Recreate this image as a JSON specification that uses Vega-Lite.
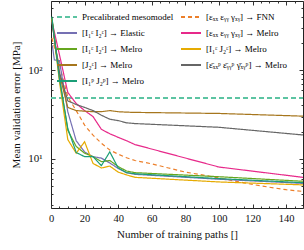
{
  "$schema": "https://vega.github.io/schema/vega-lite/v6.json",
  "autosize": {"type": "none"},
  "padding": {"left": 51, "top": 1, "right": 1, "bottom": 42},
  "width": 252,
  "height": 207,
  "config": {
    "font": "Liberation Serif",
    "view": {"stroke": "#222", "strokeWidth": 1},
    "axis": {"grid": false, "domain": false, "tickColor": "#333", "labelFont": "Liberation Serif", "titleFont": "Liberation Serif", "labelColor": "#111", "titleColor": "#111", "titleFontWeight": "normal"},
    "legend": {"orient": "none", "legendX": 5, "legendY": 5, "columns": 2, "title": null,
      "symbolType": "stroke", "symbolSize": 400, "symbolStrokeWidth": 2, "labelFontSize": 9,
      "labelFont": "Liberation Serif", "labelLimit": 200, "rowPadding": 0, "columnPadding": 3, "labelOffset": 4}
  },
  "data": {"values": [
    {"s": "Precalibrated mesomodel", "x": 0, "v": 48.4},
    {"s": "Precalibrated mesomodel", "x": 150, "v": 48.4},

    {"s": "[εₓₓ εᵧᵧ γₓᵧ] → FNN", "x": 0.5, "v": 230},
    {"s": "[εₓₓ εᵧᵧ γₓᵧ] → FNN", "x": 5, "v": 115},
    {"s": "[εₓₓ εᵧᵧ γₓᵧ] → FNN", "x": 10, "v": 50},
    {"s": "[εₓₓ εᵧᵧ γₓᵧ] → FNN", "x": 15, "v": 35},
    {"s": "[εₓₓ εᵧᵧ γₓᵧ] → FNN", "x": 20, "v": 24},
    {"s": "[εₓₓ εᵧᵧ γₓᵧ] → FNN", "x": 25, "v": 18.5},
    {"s": "[εₓₓ εᵧᵧ γₓᵧ] → FNN", "x": 30, "v": 15},
    {"s": "[εₓₓ εᵧᵧ γₓᵧ] → FNN", "x": 35, "v": 12.6},
    {"s": "[εₓₓ εᵧᵧ γₓᵧ] → FNN", "x": 40, "v": 11.3},
    {"s": "[εₓₓ εᵧᵧ γₓᵧ] → FNN", "x": 45, "v": 10.3},
    {"s": "[εₓₓ εᵧᵧ γₓᵧ] → FNN", "x": 50, "v": 9.6},
    {"s": "[εₓₓ εᵧᵧ γₓᵧ] → FNN", "x": 60, "v": 8.8},
    {"s": "[εₓₓ εᵧᵧ γₓᵧ] → FNN", "x": 70, "v": 7.9},
    {"s": "[εₓₓ εᵧᵧ γₓᵧ] → FNN", "x": 80, "v": 7.1},
    {"s": "[εₓₓ εᵧᵧ γₓᵧ] → FNN", "x": 90, "v": 6.6},
    {"s": "[εₓₓ εᵧᵧ γₓᵧ] → FNN", "x": 100, "v": 6.1},
    {"s": "[εₓₓ εᵧᵧ γₓᵧ] → FNN", "x": 110, "v": 5.6},
    {"s": "[εₓₓ εᵧᵧ γₓᵧ] → FNN", "x": 120, "v": 5.15},
    {"s": "[εₓₓ εᵧᵧ γₓᵧ] → FNN", "x": 130, "v": 4.8},
    {"s": "[εₓₓ εᵧᵧ γₓᵧ] → FNN", "x": 140, "v": 4.5},
    {"s": "[εₓₓ εᵧᵧ γₓᵧ] → FNN", "x": 150, "v": 4.3},

    {"s": "[I₁ᵋ I₂ᵋ] → Elastic", "x": 0.8, "v": 190},
    {"s": "[I₁ᵋ I₂ᵋ] → Elastic", "x": 2, "v": 130},
    {"s": "[I₁ᵋ I₂ᵋ] → Elastic", "x": 5, "v": 128},
    {"s": "[I₁ᵋ I₂ᵋ] → Elastic", "x": 10, "v": 34},
    {"s": "[I₁ᵋ I₂ᵋ] → Elastic", "x": 15, "v": 16},
    {"s": "[I₁ᵋ I₂ᵋ] → Elastic", "x": 20, "v": 12},
    {"s": "[I₁ᵋ I₂ᵋ] → Elastic", "x": 25, "v": 10.6},
    {"s": "[I₁ᵋ I₂ᵋ] → Elastic", "x": 30, "v": 10.2},
    {"s": "[I₁ᵋ I₂ᵋ] → Elastic", "x": 35, "v": 9.0},
    {"s": "[I₁ᵋ I₂ᵋ] → Elastic", "x": 40, "v": 7.8},
    {"s": "[I₁ᵋ I₂ᵋ] → Elastic", "x": 45, "v": 7.0},
    {"s": "[I₁ᵋ I₂ᵋ] → Elastic", "x": 50, "v": 6.7},
    {"s": "[I₁ᵋ I₂ᵋ] → Elastic", "x": 100, "v": 5.9},
    {"s": "[I₁ᵋ I₂ᵋ] → Elastic", "x": 150, "v": 5.3},

    {"s": "[εₓₓ εᵧᵧ γₓᵧ] → Melro", "x": 0.5, "v": 360},
    {"s": "[εₓₓ εᵧᵧ γₓᵧ] → Melro", "x": 5, "v": 150},
    {"s": "[εₓₓ εᵧᵧ γₓᵧ] → Melro", "x": 10, "v": 56},
    {"s": "[εₓₓ εᵧᵧ γₓᵧ] → Melro", "x": 15, "v": 42},
    {"s": "[εₓₓ εᵧᵧ γₓᵧ] → Melro", "x": 20, "v": 35},
    {"s": "[εₓₓ εᵧᵧ γₓᵧ] → Melro", "x": 25, "v": 30},
    {"s": "[εₓₓ εᵧᵧ γₓᵧ] → Melro", "x": 30, "v": 21.5},
    {"s": "[εₓₓ εᵧᵧ γₓᵧ] → Melro", "x": 35, "v": 19.2},
    {"s": "[εₓₓ εᵧᵧ γₓᵧ] → Melro", "x": 40, "v": 17.5},
    {"s": "[εₓₓ εᵧᵧ γₓᵧ] → Melro", "x": 45, "v": 16},
    {"s": "[εₓₓ εᵧᵧ γₓᵧ] → Melro", "x": 50, "v": 14.5},
    {"s": "[εₓₓ εᵧᵧ γₓᵧ] → Melro", "x": 100, "v": 8.1},
    {"s": "[εₓₓ εᵧᵧ γₓᵧ] → Melro", "x": 150, "v": 6.2},

    {"s": "[I₁ᵋ I₂ᵋ] → Melro", "x": 0.5, "v": 390},
    {"s": "[I₁ᵋ I₂ᵋ] → Melro", "x": 5, "v": 85},
    {"s": "[I₁ᵋ I₂ᵋ] → Melro", "x": 10, "v": 21},
    {"s": "[I₁ᵋ I₂ᵋ] → Melro", "x": 15, "v": 13.8},
    {"s": "[I₁ᵋ I₂ᵋ] → Melro", "x": 20, "v": 11.6},
    {"s": "[I₁ᵋ I₂ᵋ] → Melro", "x": 25, "v": 10.6},
    {"s": "[I₁ᵋ I₂ᵋ] → Melro", "x": 30, "v": 9.3},
    {"s": "[I₁ᵋ I₂ᵋ] → Melro", "x": 35, "v": 9.6},
    {"s": "[I₁ᵋ I₂ᵋ] → Melro", "x": 40, "v": 8.2},
    {"s": "[I₁ᵋ I₂ᵋ] → Melro", "x": 45, "v": 7.3},
    {"s": "[I₁ᵋ I₂ᵋ] → Melro", "x": 50, "v": 7.0},
    {"s": "[I₁ᵋ I₂ᵋ] → Melro", "x": 100, "v": 6.3},
    {"s": "[I₁ᵋ I₂ᵋ] → Melro", "x": 150, "v": 5.6},

    {"s": "[I₁ᵋ J₂ᵋ] → Melro", "x": 0.5, "v": 380},
    {"s": "[I₁ᵋ J₂ᵋ] → Melro", "x": 5, "v": 75},
    {"s": "[I₁ᵋ J₂ᵋ] → Melro", "x": 10, "v": 16.5},
    {"s": "[I₁ᵋ J₂ᵋ] → Melro", "x": 15, "v": 11.6},
    {"s": "[I₁ᵋ J₂ᵋ] → Melro", "x": 20, "v": 15.6},
    {"s": "[I₁ᵋ J₂ᵋ] → Melro", "x": 25, "v": 8.9},
    {"s": "[I₁ᵋ J₂ᵋ] → Melro", "x": 30, "v": 7.9},
    {"s": "[I₁ᵋ J₂ᵋ] → Melro", "x": 35, "v": 8.3},
    {"s": "[I₁ᵋ J₂ᵋ] → Melro", "x": 40, "v": 7.1},
    {"s": "[I₁ᵋ J₂ᵋ] → Melro", "x": 45, "v": 6.6},
    {"s": "[I₁ᵋ J₂ᵋ] → Melro", "x": 50, "v": 6.2},
    {"s": "[I₁ᵋ J₂ᵋ] → Melro", "x": 100, "v": 5.5},
    {"s": "[I₁ᵋ J₂ᵋ] → Melro", "x": 150, "v": 5.1},

    {"s": "[J₂ᵋ] → Melro", "x": 0.5, "v": 370},
    {"s": "[J₂ᵋ] → Melro", "x": 5, "v": 90},
    {"s": "[J₂ᵋ] → Melro", "x": 10, "v": 38},
    {"s": "[J₂ᵋ] → Melro", "x": 15, "v": 35},
    {"s": "[J₂ᵋ] → Melro", "x": 20, "v": 34.5},
    {"s": "[J₂ᵋ] → Melro", "x": 25, "v": 34},
    {"s": "[J₂ᵋ] → Melro", "x": 30, "v": 34},
    {"s": "[J₂ᵋ] → Melro", "x": 35, "v": 35},
    {"s": "[J₂ᵋ] → Melro", "x": 40, "v": 34},
    {"s": "[J₂ᵋ] → Melro", "x": 45, "v": 33.6},
    {"s": "[J₂ᵋ] → Melro", "x": 50, "v": 33.4},
    {"s": "[J₂ᵋ] → Melro", "x": 100, "v": 32.5},
    {"s": "[J₂ᵋ] → Melro", "x": 150, "v": 30.3},

    {"s": "[ε̄ₓₓᵖ ε̄ᵧᵧᵖ γ̄ₓᵧᵖ] → Melro", "x": 0.5, "v": 350},
    {"s": "[ε̄ₓₓᵖ ε̄ᵧᵧᵖ γ̄ₓᵧᵖ] → Melro", "x": 5, "v": 95},
    {"s": "[ε̄ₓₓᵖ ε̄ᵧᵧᵖ γ̄ₓᵧᵖ] → Melro", "x": 10, "v": 45},
    {"s": "[ε̄ₓₓᵖ ε̄ᵧᵧᵖ γ̄ₓᵧᵖ] → Melro", "x": 15, "v": 41},
    {"s": "[ε̄ₓₓᵖ ε̄ᵧᵧᵖ γ̄ₓᵧᵖ] → Melro", "x": 20, "v": 38},
    {"s": "[ε̄ₓₓᵖ ε̄ᵧᵧᵖ γ̄ₓᵧᵖ] → Melro", "x": 25, "v": 35},
    {"s": "[ε̄ₓₓᵖ ε̄ᵧᵧᵖ γ̄ₓᵧᵖ] → Melro", "x": 30, "v": 31},
    {"s": "[ε̄ₓₓᵖ ε̄ᵧᵧᵖ γ̄ₓᵧᵖ] → Melro", "x": 35, "v": 28},
    {"s": "[ε̄ₓₓᵖ ε̄ᵧᵧᵖ γ̄ₓᵧᵖ] → Melro", "x": 40, "v": 27},
    {"s": "[ε̄ₓₓᵖ ε̄ᵧᵧᵖ γ̄ₓᵧᵖ] → Melro", "x": 45, "v": 25.5},
    {"s": "[ε̄ₓₓᵖ ε̄ᵧᵧᵖ γ̄ₓᵧᵖ] → Melro", "x": 50, "v": 25},
    {"s": "[ε̄ₓₓᵖ ε̄ᵧᵧᵖ γ̄ₓᵧᵖ] → Melro", "x": 100, "v": 22.7},
    {"s": "[ε̄ₓₓᵖ ε̄ᵧᵧᵖ γ̄ₓᵧᵖ] → Melro", "x": 150, "v": 18.6},

    {"s": "[I₁ᵖ J₂ᵖ] → Melro", "x": 0.5, "v": 400},
    {"s": "[I₁ᵖ J₂ᵖ] → Melro", "x": 5, "v": 80},
    {"s": "[I₁ᵖ J₂ᵖ] → Melro", "x": 10, "v": 22},
    {"s": "[I₁ᵖ J₂ᵖ] → Melro", "x": 15, "v": 11.8},
    {"s": "[I₁ᵖ J₂ᵖ] → Melro", "x": 20, "v": 10.6},
    {"s": "[I₁ᵖ J₂ᵖ] → Melro", "x": 25, "v": 10.6},
    {"s": "[I₁ᵖ J₂ᵖ] → Melro", "x": 30, "v": 8.4},
    {"s": "[I₁ᵖ J₂ᵖ] → Melro", "x": 35, "v": 12},
    {"s": "[I₁ᵖ J₂ᵖ] → Melro", "x": 40, "v": 7.9},
    {"s": "[I₁ᵖ J₂ᵖ] → Melro", "x": 45, "v": 7.0},
    {"s": "[I₁ᵖ J₂ᵖ] → Melro", "x": 50, "v": 6.8},
    {"s": "[I₁ᵖ J₂ᵖ] → Melro", "x": 100, "v": 6.0},
    {"s": "[I₁ᵖ J₂ᵖ] → Melro", "x": 150, "v": 5.4}
  ]},
  "layer": [
    {
      "mark": {"type": "line", "clip": true},
      "encoding": {
        "x": {"field": "x", "type": "quantitative",
          "scale": {"domain": [0, 150], "nice": false, "zero": false},
          "axis": {"orient": "bottom", "values": [0,5,10,15,20,25,30,35,40,45,50,55,60,65,70,75,80,85,90,95,100,105,110,115,120,125,130,135,140,145,150],
            "labelExpr": "(datum.value % 20 == 0 && datum.value <= 140) ? datum.label : ''",
            "labelOverlap": false, "labelFlush": false, "labelFontSize": 10.5, "labelPadding": 9,
            "tickSize": {"condition": {"test": "datum.value % 20 == 0", "value": -4}, "value": -2},
            "title": "Number of training paths []", "titleFontSize": 11, "titlePadding": 3}},
        "y": {"field": "v", "type": "quantitative",
          "scale": {"type": "log", "domain": [2.8, 600], "nice": false},
          "axis": {"orient": "left", "values": [3,4,5,6,7,8,9,10,20,30,40,50,60,70,80,90,100,200,300,400,500],
            "labelExpr": "datum.value == 10 ? '10¹' : (datum.value == 100 ? '10²' : '')",
            "labelOverlap": false, "labelFlush": false, "labelFontSize": 11, "labelPadding": 13,
            "tickSize": {"condition": {"test": "datum.value == 10 || datum.value == 100", "value": -4}, "value": -2},
            "title": "Mean validation error [MPa]", "titleFontSize": 11, "titlePadding": 6}},
        "color": {"field": "s", "type": "nominal",
          "scale": {
            "domain": ["Precalibrated mesomodel", "[I₁ᵋ I₂ᵋ] → Elastic", "[I₁ᵋ I₂ᵋ] → Melro", "[J₂ᵋ] → Melro", "[I₁ᵖ J₂ᵖ] → Melro", "[εₓₓ εᵧᵧ γₓᵧ] → FNN", "[εₓₓ εᵧᵧ γₓᵧ] → Melro", "[I₁ᵋ J₂ᵋ] → Melro", "[ε̄ₓₓᵖ ε̄ᵧᵧᵖ γ̄ₓᵧᵖ] → Melro"],
            "range": ["#5cc4a2", "#7570b3", "#66a61e", "#a6761d", "#1b9e77", "#ec7f2a", "#e7298a", "#e6ab02", "#666666"]}},
        "strokeDash": {"field": "s", "type": "nominal",
          "scale": {
            "domain": ["Precalibrated mesomodel", "[I₁ᵋ I₂ᵋ] → Elastic", "[I₁ᵋ I₂ᵋ] → Melro", "[J₂ᵋ] → Melro", "[I₁ᵖ J₂ᵖ] → Melro", "[εₓₓ εᵧᵧ γₓᵧ] → FNN", "[εₓₓ εᵧᵧ γₓᵧ] → Melro", "[I₁ᵋ J₂ᵋ] → Melro", "[ε̄ₓₓᵖ ε̄ᵧᵧᵖ γ̄ₓᵧᵖ] → Melro"],
            "range": [[5, 3], [1, 0], [1, 0], [1, 0], [1, 0], [4, 3], [1, 0], [1, 0], [1, 0]]}},
        "strokeWidth": {"condition": {"test": "datum.s == 'Precalibrated mesomodel'", "value": 2}, "value": 1.2}
      }
    },
    {
      "mark": {"type": "point", "opacity": 0},
      "encoding": {
        "x": {"field": "x", "type": "quantitative",
          "scale": {"domain": [0, 150], "nice": false, "zero": false},
          "axis": {"orient": "top", "values": [0,5,10,15,20,25,30,35,40,45,50,55,60,65,70,75,80,85,90,95,100,105,110,115,120,125,130,135,140,145,150],
            "labels": false, "title": null,
            "tickSize": {"condition": {"test": "datum.value % 20 == 0", "value": -4}, "value": -2}}},
        "y": {"field": "v", "type": "quantitative",
          "scale": {"type": "log", "domain": [2.8, 600], "nice": false},
          "axis": {"orient": "right", "values": [3,4,5,6,7,8,9,10,20,30,40,50,60,70,80,90,100,200,300,400,500],
            "labels": false, "title": null,
            "tickSize": {"condition": {"test": "datum.value == 10 || datum.value == 100", "value": -4}, "value": -2}}}
      }
    }
  ],
  "resolve": {"axis": {"x": "independent", "y": "independent"}}
}
